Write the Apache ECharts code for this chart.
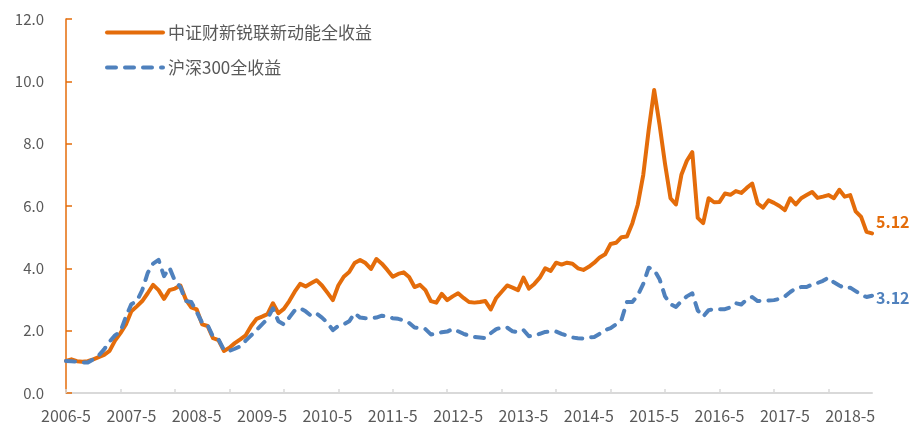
<!DOCTYPE html>
<html>
<head>
<meta charset="utf-8">
<script src="https://cdn.jsdelivr.net/npm/echarts@6/dist/echarts.min.js"></script>
<style>
  html, body { margin: 0; padding: 0; background: #fff; }
  #chart { width: 913px; height: 425px; }
</style>
</head>
<body>
<div id="chart"></div>
<script>
// 月度区间：2006-5 至 2018-9
const startYear = 2006
const startMonth = 5
const monthCount = 149

const categories = []
for (let i = 0; i < monthCount; i++) {
  const m = startMonth - 1 + i
  categories.push((startYear + Math.floor(m / 12)) + '-' + (m % 12 + 1))
}

const seriesNames = ['中证财新锐联新动能全收益', '沪深300全收益']

// 中证财新锐联新动能全收益
const newEnergyValues = [
  1.03, 1.08, 1.02, 1.00, 1.02, 1.08, 1.15, 1.22, 1.35, 1.68,
  1.92, 2.20, 2.62, 2.78, 2.95, 3.20, 3.47, 3.30, 3.02, 3.30,
  3.35, 3.45, 3.00, 2.75, 2.68, 2.20, 2.15, 1.76, 1.70, 1.35,
  1.45, 1.60, 1.72, 1.85, 2.15, 2.38, 2.45, 2.53, 2.88, 2.56,
  2.70, 2.95, 3.25, 3.50, 3.42, 3.52, 3.62, 3.45, 3.22, 2.98,
  3.45, 3.73, 3.88, 4.17, 4.27, 4.17, 3.98, 4.30, 4.15, 3.95,
  3.73, 3.82, 3.87, 3.72, 3.40, 3.47, 3.30, 2.95, 2.90, 3.18,
  2.98, 3.10, 3.20, 3.05, 2.92, 2.90, 2.92, 2.95, 2.68, 3.05,
  3.25, 3.45, 3.38, 3.30, 3.70, 3.35, 3.50, 3.70, 4.00, 3.92,
  4.18, 4.12, 4.18, 4.15, 4.00, 3.95, 4.05, 4.18, 4.35, 4.45,
  4.78, 4.82, 5.00, 5.02, 5.45, 6.05, 7.00, 8.45, 9.72, 8.60,
  7.35, 6.25, 6.05, 7.00, 7.45, 7.73, 5.62, 5.45, 6.25, 6.12,
  6.13, 6.40, 6.36, 6.48, 6.42, 6.58, 6.72, 6.08, 5.95, 6.18,
  6.10, 6.00, 5.87, 6.25, 6.05, 6.25, 6.35, 6.45, 6.26, 6.30,
  6.35, 6.25, 6.52, 6.30, 6.35, 5.83, 5.65, 5.17, 5.12
]

// 沪深300全收益
const hs300Values = [
  1.03, 1.02, 1.00, 0.98, 0.98, 1.08, 1.20, 1.40, 1.65, 1.85,
  1.97, 2.45, 2.85, 2.95, 3.30, 3.85, 4.15, 4.27, 3.75, 4.02,
  3.60, 3.40, 2.95, 2.92, 2.60, 2.25, 2.18, 1.80, 1.72, 1.38,
  1.35, 1.42, 1.50, 1.68, 1.85, 2.02, 2.20, 2.38, 2.72, 2.30,
  2.20, 2.42, 2.65, 2.72, 2.62, 2.48, 2.55, 2.42, 2.25, 2.02,
  2.15, 2.20, 2.30, 2.56, 2.42, 2.40, 2.40, 2.42, 2.48, 2.44,
  2.40, 2.38, 2.33, 2.25, 2.10, 2.08, 2.05, 1.88, 1.90, 1.95,
  1.97, 2.05, 1.98, 1.90, 1.84, 1.80, 1.78, 1.76, 1.92, 2.05,
  2.10, 2.10, 1.98, 1.95, 2.02, 1.82, 1.85, 1.90, 1.96, 1.97,
  1.97, 1.90, 1.84, 1.78, 1.76, 1.75, 1.78, 1.80, 1.90, 2.02,
  2.08, 2.20, 2.35, 2.92, 2.92, 3.14, 3.50, 4.02, 3.95, 3.65,
  3.10, 2.85, 2.76, 2.95, 3.10, 3.20, 2.65, 2.45, 2.66, 2.69,
  2.69, 2.69, 2.75, 2.88, 2.84, 3.00, 3.08, 2.95, 2.96, 2.97,
  2.98, 3.02, 3.10, 3.24, 3.36, 3.40, 3.40, 3.48, 3.53, 3.60,
  3.70, 3.55, 3.45, 3.36, 3.38, 3.27, 3.15, 3.08, 3.12
]

const orange = '#E46C0A'
const blue = '#4F81BD'
const textColor = '#595959'

const myChart = echarts.init(document.getElementById('chart'))

const option = {
  animation: false,
  backgroundColor: '#fff',
  textStyle: {
    fontFamily: '"Noto Sans CJK SC", "Open Sans", sans-serif'
  },
  grid: {
    left: 66,
    right: 41,
    top: 19,
    bottom: 32
  },
  legend: {
    orient: 'vertical',
    left: 100,
    top: 19,
    itemWidth: 56,
    itemHeight: 18,
    itemGap: 18,
    itemStyle: { opacity: 0 },
    lineStyle: { width: 4 },
    textStyle: {
      color: textColor,
      fontSize: 17
    },
    data: seriesNames
  },
  xAxis: {
    type: 'category',
    data: categories,
    boundaryGap: false,
    axisLine: {
      lineStyle: { color: '#D9D9D9', width: 2 }
    },
    axisTick: {
      inside: true,
      interval: 9,
      length: 4,
      lineStyle: { color: '#D9D9D9', width: 1.5 }
    },
    axisLabel: {
      interval: 11,
      color: textColor,
      fontSize: 16,
      margin: 15
    },
    splitLine: { show: false }
  },
  yAxis: {
    type: 'value',
    min: 0,
    max: 12,
    interval: 2,
    axisLine: {
      show: true,
      lineStyle: { color: orange, width: 1.5 }
    },
    axisTick: {
      show: true,
      inside: true,
      length: 6,
      lineStyle: { color: orange, width: 1.5 }
    },
    axisLabel: {
      color: textColor,
      fontSize: 15,
      margin: 22,
      formatter: (v) => v.toFixed(1)
    },
    splitLine: { show: false }
  },
  series: [
    {
      name: seriesNames[0],
      type: 'line',
      data: newEnergyValues,
      symbol: 'none',
      z: 2,
      lineStyle: { color: orange, width: 4, join: 'round', cap: 'round' },
      itemStyle: { color: orange },
      endLabel: {
        show: true,
        formatter: (p) => p.value.toFixed(2),
        color: orange,
        fontWeight: 'bold',
        fontSize: 16,
        distance: 4,
        offset: [0, -12]
      }
    },
    {
      name: seriesNames[1],
      type: 'line',
      data: hs300Values,
      symbol: 'none',
      z: 3,
      lineStyle: { color: blue, width: 4, type: [9, 9], cap: 'round', join: 'round' },
      itemStyle: { color: blue },
      endLabel: {
        show: true,
        formatter: (p) => p.value.toFixed(2),
        color: blue,
        fontWeight: 'bold',
        fontSize: 16,
        distance: 4,
        offset: [0, 2]
      }
    }
  ]
}

myChart.setOption(option)
</script>
</body>
</html>
